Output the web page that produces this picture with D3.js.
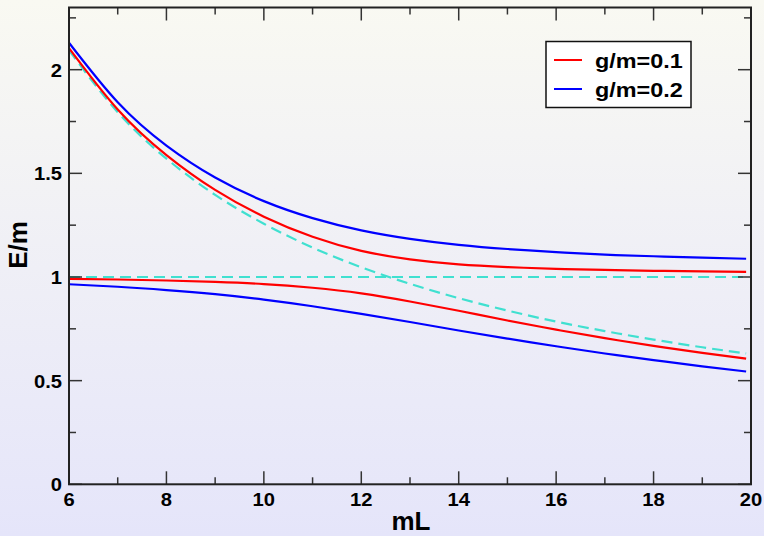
<!DOCTYPE html>
<html>
<head>
<meta charset="utf-8">
<script src="https://cdn.jsdelivr.net/npm/d3@7"></script>
<style>
  html, body { margin: 0; padding: 0; }
  svg { display: block; font-family: "Liberation Sans", Arial, sans-serif; font-weight: bold; }
</style>
</head>
<body>
<script>
'use strict';

var width = 764,
    height = 536;

// mL sample points
var mL = [6, 7, 8, 9, 10, 11, 12, 13, 14, 15, 16, 17, 18, 19, 19.9];

// E/m values
var redUpper  = [2.104, 1.808, 1.588, 1.420, 1.291, 1.194, 1.126, 1.085, 1.061, 1.048, 1.039, 1.034, 1.030, 1.027, 1.025];
var redLower  = [0.991, 0.988, 0.983, 0.976, 0.966, 0.948, 0.921, 0.882, 0.837, 0.790, 0.746, 0.705, 0.668, 0.634, 0.606];
var blueUpper = [2.130, 1.843, 1.634, 1.480, 1.366, 1.284, 1.225, 1.184, 1.155, 1.135, 1.120, 1.108, 1.100, 1.093, 1.088];
var blueLower = [0.965, 0.953, 0.937, 0.917, 0.891, 0.859, 0.822, 0.783, 0.742, 0.703, 0.666, 0.631, 0.599, 0.569, 0.544];
var freeLevel = [2.094, 1.795, 1.571, 1.396, 1.257, 1.142, 1.047, 0.967, 0.898, 0.838, 0.785, 0.739, 0.698, 0.661, 0.631];
var restLevel = [1, 1, 1, 1, 1, 1, 1, 1, 1, 1, 1, 1, 1, 1, 1];

var legendLabels = ["g/m=0.1", "g/m=0.2"];
var legendColors = ["#ff0000", "#0000ff"];

var xMajor = [6, 8, 10, 12, 14, 16, 18, 20],
    xMinor = [7, 9, 11, 13, 15, 17, 19],
    yMajor = [0, 0.5, 1, 1.5, 2],
    yMinor = [0.25, 0.75, 1.25, 1.75, 2.25];

var pL = 69, pR = 751, pT = 7.5, pB = 484.3;

var x = d3.scaleLinear().domain([6, 20]).range([pL, pR]);
var y = d3.scaleLinear().domain([0, 2.3]).range([pB, pT]);

var svg = d3.select("body").append("svg")
  .attr("width", width)
  .attr("height", height);

// background gradient
var grad = svg.append("defs").append("linearGradient")
  .attr("id", "bg")
  .attr("x1", 0).attr("y1", 0).attr("x2", 0).attr("y2", 1);
grad.append("stop").attr("offset", "0%").attr("stop-color", "#f9f9f2");
grad.append("stop").attr("offset", "100%").attr("stop-color", "#e5e5fa");

svg.append("rect")
  .attr("width", width)
  .attr("height", height)
  .attr("fill", "url(#bg)");

// curves
var line = function(vals) {
  return d3.line()
    .x(function(d, i) { return x(mL[i]); })
    .y(function(d) { return y(d); })
    .curve(d3.curveNatural)(vals);
};

var series = [
  {vals: restLevel, color: "#40e0d0", dash: "11,6", w: 2.2},
  {vals: freeLevel, color: "#40e0d0", dash: "11,6", w: 2.2},
  {vals: redUpper, color: legendColors[0], dash: null, w: 2.2},
  {vals: redLower, color: legendColors[0], dash: null, w: 2.2},
  {vals: blueUpper, color: legendColors[1], dash: null, w: 2.2},
  {vals: blueLower, color: legendColors[1], dash: null, w: 2.2}
];

svg.selectAll("path.curve")
  .data(series)
  .enter().append("path")
  .attr("class", "curve")
  .attr("d", function(d) { return line(d.vals); })
  .attr("fill", "none")
  .attr("stroke", function(d) { return d.color; })
  .attr("stroke-width", function(d) { return d.w; })
  .attr("stroke-dasharray", function(d) { return d.dash; });

// ticks on all four sides, pointing inward
var ticks = svg.append("g").attr("stroke", "#333").attr("stroke-width", 1.5);
function xTicks(vals, len) {
  vals.forEach(function(v) {
    ticks.append("line").attr("x1", x(v)).attr("x2", x(v)).attr("y1", pB).attr("y2", pB - len);
    ticks.append("line").attr("x1", x(v)).attr("x2", x(v)).attr("y1", pT).attr("y2", pT + len);
  });
}
function yTicks(vals, len) {
  vals.forEach(function(v) {
    ticks.append("line").attr("y1", y(v)).attr("y2", y(v)).attr("x1", pL).attr("x2", pL + len);
    ticks.append("line").attr("y1", y(v)).attr("y2", y(v)).attr("x1", pR).attr("x2", pR - len);
  });
}
xTicks(xMajor, 13);
xTicks(xMinor, 7);
yTicks(yMajor, 13);
yTicks(yMinor, 7);

// frame
svg.append("rect")
  .attr("x", pL).attr("y", pT)
  .attr("width", pR - pL).attr("height", pB - pT)
  .attr("fill", "none")
  .attr("stroke", "#222")
  .attr("stroke-width", 2);

function stretch(sel, k) {
  sel.each(function() {
    var len = this.getComputedTextLength();
    d3.select(this).attr("textLength", len * k).attr("lengthAdjust", "spacingAndGlyphs");
  });
}

// tick labels
svg.selectAll("text.xlab")
  .data(xMajor)
  .enter().append("text")
  .attr("class", "xlab")
  .attr("x", function(d) { return x(d); })
  .attr("y", 506)
  .attr("text-anchor", "middle")
  .attr("font-size", 18)
  .text(function(d) { return d; })
  .call(stretch, 1.12);

svg.selectAll("text.ylab")
  .data(yMajor)
  .enter().append("text")
  .attr("class", "ylab")
  .attr("x", 62)
  .attr("y", function(d) { return y(d) + 7; })
  .attr("text-anchor", "end")
  .attr("font-size", 18)
  .text(function(d) { return d; })
  .call(stretch, 1.12);

// axis titles
svg.append("text")
  .attr("x", 411)
  .attr("y", 530)
  .attr("text-anchor", "middle")
  .attr("font-size", 26)
  .text("mL");

svg.append("text")
  .attr("transform", "translate(27,245) rotate(-90)")
  .attr("text-anchor", "middle")
  .attr("font-size", 26)
  .text("E/m");

// legend
var legend = svg.append("g");
legend.append("rect")
  .attr("x", 546).attr("y", 41.5)
  .attr("width", 145).attr("height", 66)
  .attr("fill", "#fff")
  .attr("stroke", "#111")
  .attr("stroke-width", 1.5);

legendLabels.forEach(function(lab, i) {
  var ly = 60 + i * 29;
  legend.append("line")
    .attr("x1", 554).attr("x2", 582)
    .attr("y1", ly).attr("y2", ly)
    .attr("stroke", legendColors[i])
    .attr("stroke-width", 2);
  legend.append("text")
    .attr("x", 595)
    .attr("y", ly + 7.5)
    .attr("font-size", 20)
    .text(lab)
    .call(stretch, 1.17);
});
</script>
</body>
</html>
